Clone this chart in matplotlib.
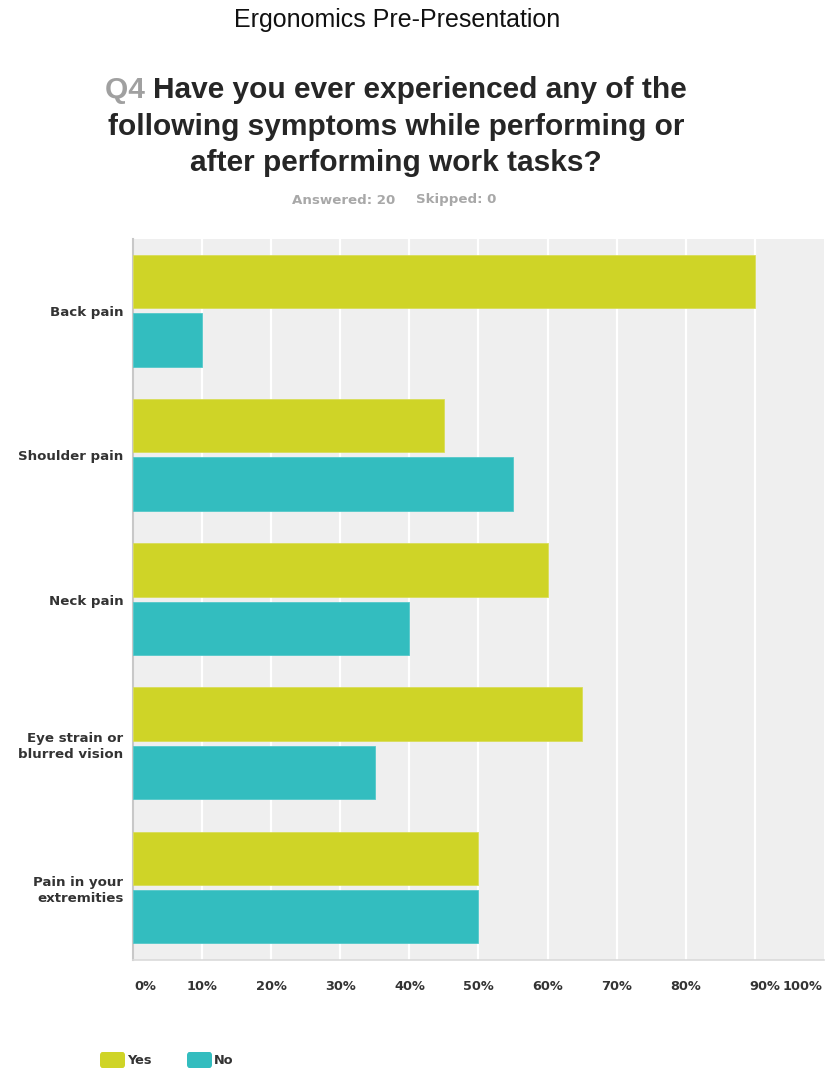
import matplotlib
matplotlib.use("Agg")
import matplotlib.pyplot as plt
from matplotlib.patches import FancyBboxPatch
import numpy as np

categories = ["Back pain", "Shoulder pain", "Neck pain", "Eye strain or\nblurred vision", "Pain in your\nextremities"]
yes_vals = [90, 45, 60, 65, 50]
no_vals = [10, 55, 40, 35, 50]
series_names = ["Yes", "No"]
tick_labels = ["0%", "10%", "20%", "30%", "40%", "50%", "60%", "70%", "80%", "90%", "100%"]

YES_C = "#CFD427"
NO_C = "#33BDBF"
BG = "#EFEFEF"
TXT = "#333333"
LAB = ["DejaVu Sans"]

plt.rcParams['font.family'] = ['Liberation Sans', 'DejaVu Sans']

W, H = 828, 1074
fig = plt.figure(figsize=(W / 100, H / 100), dpi=100)

def fx(px):
    return px / W

def fy(py):
    return 1 - py / H

ax = fig.add_axes([fx(133), fy(960), fx(824) - fx(133), fy(239) - fy(960)])
ax.set_facecolor(BG)
n = len(categories)
centers = np.arange(n) + 0.5
h = 0.37
ax.barh(centers - 0.205, yes_vals, height=h, color=YES_C, edgecolor="#D9DD5A", linewidth=0.6, zorder=3)
ax.barh(centers + 0.2, no_vals, height=h, color=NO_C, edgecolor="#55C8CA", linewidth=0.6, zorder=3)
ax.set_xlim(0, 100)
ax.set_ylim(n, 0)
for xv in range(10, 100, 10):
    ax.axvline(xv, color="white", lw=1.6, zorder=1)
ax.set_xticks(range(0, 101, 10))
ax.set_xticklabels([])
ax.tick_params(axis="x", length=0)
ax.set_yticks(centers)
ax.set_yticklabels(categories, fontsize=9.6, fontweight="bold", color=TXT, linespacing=1.25, family=LAB)
ax.tick_params(axis="y", length=0, pad=7)
for s in ["top", "right"]:
    ax.spines[s].set_visible(False)
ax.spines["left"].set_color("#C8C8C8")
ax.spines["left"].set_linewidth(1.5)
ax.spines["bottom"].set_color("#DADADA")
ax.spines["bottom"].set_linewidth(1.2)

# x tick labels (placed under the gridlines)
for i, lab in enumerate(tick_labels):
    px = 133 + i * 10 * 6.91
    if i == 0:
        px = 145
    elif i == 9:
        px = 765
    elif i == 10:
        px = 803
    fig.text(fx(px), fy(986), lab, ha="center", va="center", fontsize=9.3, fontweight="bold",
             color=TXT, family=LAB)

# Titles
fig.text(fx(397), fy(20), "Ergonomics Pre-Presentation", ha="center", va="center", fontsize=18, color="#111111")

title_lines = ["Have you ever experienced any of the", "following symptoms while performing or", "after performing work tasks?"]
TS = 21.5
fig.canvas.draw()
renderer = fig.canvas.get_renderer()
q = fig.text(0, fy(90), "Q4 ", ha="left", va="center", fontsize=TS, fontweight="bold", color="#A0A0A0")
t1 = fig.text(0, fy(90), title_lines[0], ha="left", va="center", fontsize=TS, fontweight="bold", color="#262626")
wq = q.get_window_extent(renderer).width
w1 = t1.get_window_extent(renderer).width
total = wq + w1
start = 396 - total / 2
q.set_x(fx(start))
t1.set_x(fx(start + wq))
fig.text(fx(396), fy(127), title_lines[1], ha="center", va="center", fontsize=TS, fontweight="bold", color="#262626")
fig.text(fx(396), fy(163), title_lines[2], ha="center", va="center", fontsize=TS, fontweight="bold", color="#262626")

fig.text(fx(344), fy(200), "Answered: 20", ha="center", va="center", fontsize=9.6, fontweight="bold",
         color="#A8A8A8", family=LAB)
fig.text(fx(456), fy(200), "Skipped: 0", ha="center", va="center", fontsize=9.6, fontweight="bold",
         color="#A8A8A8", family=LAB)

# Legend
for px, name, col in [(100, series_names[0], YES_C), (187, series_names[1], NO_C)]:
    fig.patches.append(FancyBboxPatch((fx(px), fy(1068)), fx(25), fy(1052) - fy(1068),
                                      boxstyle="round,pad=0,rounding_size=0.003",
                                      transform=fig.transFigure, facecolor=col, edgecolor="none"))
    fig.text(fx(px + 27), fy(1060), name, ha="left", va="center", fontsize=9.3, fontweight="bold",
             color=TXT, family=LAB)

fig.savefig("out.png", dpi=100)
